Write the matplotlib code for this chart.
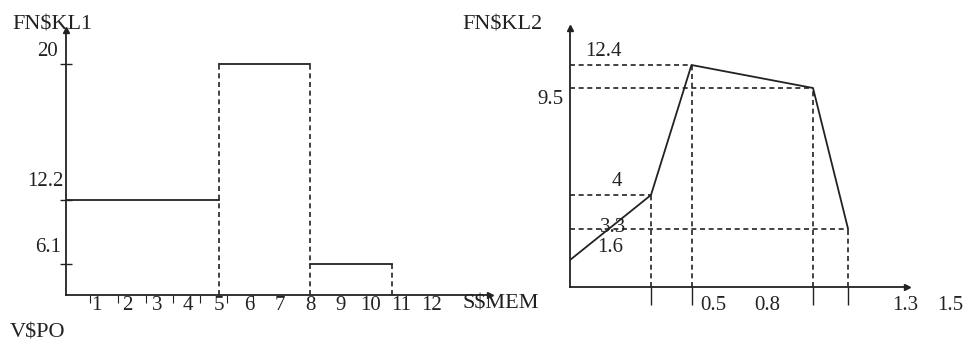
import numpy as np
import matplotlib
matplotlib.use("Agg")
import matplotlib.pyplot as plt

# ---- data ----
# left chart: step levels (FN$KL1 vs S$MEM)
left_edges = [0, 5, 8, 10.7]
left_levels = [12.2, 20, 6.1]
left_ylabels = ["20", "12.2", "6.1"]
left_yvalues = [20, 12.2, 6.1]
left_xticks = list(range(1, 13))

# right chart: polyline (FN$KL2)
right_x = [0, 0.3, 0.45, 0.9, 1.03]
right_y = [1.6, 4, 12.4, 9.5, 3.3]
right_xlabels = ["0.5", "0.8", "1.3", "1.5"]
right_xlabel_pos = [0.53, 0.73, 1.24, 1.41]
right_ylabels = ["12.4", "9.5", "4", "3.3", "1.6"]
right_yvalues = [12.4, 9.5, 4, 3.3, 1.6]

# ---- layout (schematic, non-linear vertical axes) ----
W, H = 968, 344
ink = "#222222"
font = "Liberation Serif"
fs = 15


def knot_scale(vals, px):
    fwd = lambda v: np.interp(v, vals, px)
    inv = lambda p: np.interp(p, px, vals)
    return fwd, inv


fig = plt.figure(figsize=(W / 100, H / 100), dpi=100)
plt.rcParams['font.family'] = [font, 'DejaVu Serif']

def setup(ax):
    for s in ("top", "right"):
        ax.spines[s].set_visible(False)
    for s in ("left", "bottom"):
        ax.spines[s].set_color(ink)
        ax.spines[s].set_linewidth(1.3)
    ax.plot(1, 0, ">", color=ink, ms=5, transform=ax.transAxes, clip_on=False)
    ax.plot(0, 1, "^", color=ink, ms=5, transform=ax.transAxes, clip_on=False)
    ax.set_facecolor("none")

dash = dict(color=ink, lw=1.2, ls=(0, (3, 2.2)))
solid = dict(color=ink, lw=1.3)

# left chart
ax1 = fig.add_axes([66 / W, 49 / H, 424 / W, 265 / H])
setup(ax1)
ax1.set_yscale("function", functions=knot_scale([0, 6.1, 12.2, 20, 22], [0, 31, 95, 231, 265]))
ax1.set_xlim(0, 424 / 30.5)
ax1.set_ylim(0, 22)

for i, lvl in enumerate(left_levels):
    ax1.plot([left_edges[i], left_edges[i + 1]], [lvl, lvl], **solid)
for i in range(1, len(left_edges)):
    top = left_levels[i - 1] if i == len(left_edges) - 1 else max(left_levels[i - 1], left_levels[i])
    ax1.plot([left_edges[i], left_edges[i]], [0, top], **dash)

ax1.set_yticks(left_yvalues)
ax1.set_yticklabels([])
ax1.tick_params(axis="y", direction="inout", length=9, width=1, color=ink)
for lab, v, off in zip(left_ylabels, left_yvalues, [(-18, 12), (-21, 18), (-18, 16)]):
    ax1.annotate(lab, (0, v), xytext=off, textcoords="offset pixels",
                 ha="center", va="center", fontsize=fs, color=ink)

ax1.set_xticks(left_xticks)
ax1.set_xticklabels([str(t) for t in left_xticks], fontsize=fs, color=ink)
ax1.tick_params(axis="x", length=0, pad=1)
ax1.set_xticks([0.79, 1.7, 2.62, 3.51, 4.39, 5.28, 6.13], minor=True)
ax1.tick_params(axis="x", which="minor", direction="out", length=6, width=0.8, color=ink)
ax1.text(13.0, 0, "S$MEM", transform=ax1.transData, fontsize=fs + 1, color=ink,
         ha="left", va="top")

# right chart
ax2 = fig.add_axes([570 / W, 57 / H, 337 / W, 259 / H])
setup(ax2)
ax2.set_yscale("function", functions=knot_scale([0, 1.6, 3.3, 4, 9.5, 12.4, 17],
                                                [0, 27, 58, 92, 199, 222, 259]))
ax2.set_xlim(0, 337 / 270)
ax2.set_ylim(0, 17)

ax2.plot(right_x, right_y, **solid)
for x, y in zip(right_x[1:], right_y[1:]):
    ax2.plot([x, x], [0, y], **dash)
    ax2.plot([0, x], [y, y], **dash)

ax2.set_yticks([])
ax2.set_xticks(right_x[1:])
ax2.set_xticklabels([])
ax2.tick_params(axis="x", direction="out", length=13, width=1, color=ink)
for lab, x in zip(right_xlabels, right_xlabel_pos):
    ax2.annotate(lab, (x, 0), xytext=(0, -19), textcoords="offset pixels",
                 ha="center", va="center", fontsize=fs, color=ink, annotation_clip=False)
for lab, v, off in zip(right_ylabels, right_yvalues,
                       [(33, 13), (-20, -12), (47, 13), (43, 2), (40, 12)]):
    ax2.annotate(lab, (0, v), xytext=off, textcoords="offset pixels",
                 ha="center", va="center", fontsize=fs, color=ink, annotation_clip=False)

# axis titles
fig.text(12 / W, 1 - 25 / H, "FN$KL1", fontsize=fs + 1, color=ink, ha="left", va="center")
fig.text(462 / W, 1 - 25 / H, "FN$KL2", fontsize=fs + 1, color=ink, ha="left", va="center")
fig.text(10 / W, 1 - 333 / H, "V$PO", fontsize=fs + 1, color=ink, ha="left", va="center")

fig.savefig("out.png", dpi=100)
